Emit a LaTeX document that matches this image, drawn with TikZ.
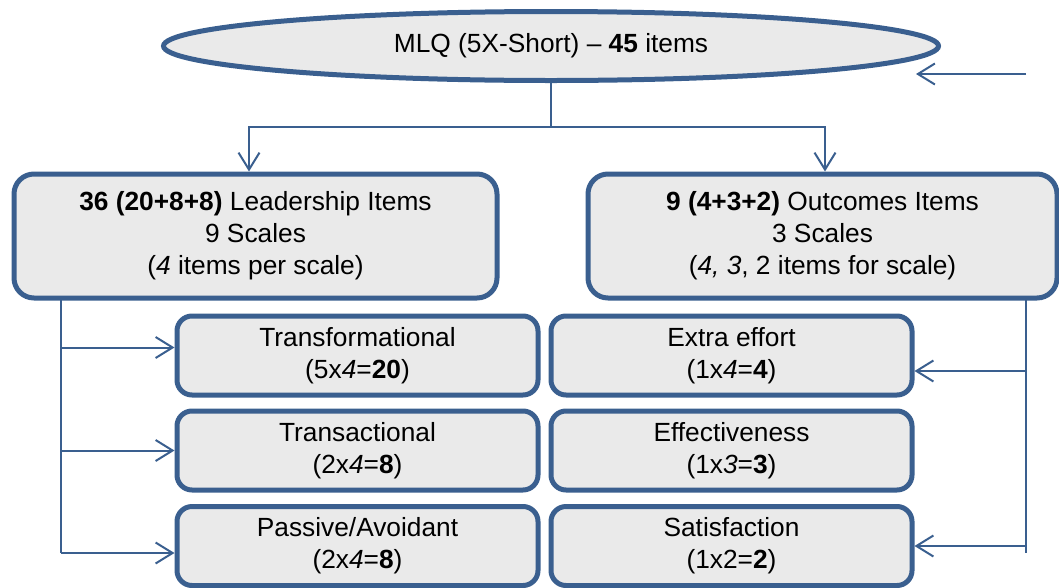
\documentclass[tikz,border=0pt]{standalone}
\usepackage{fontspec}
\setmainfont{Liberation Sans}
\usepackage{tikz}
\usetikzlibrary{arrows.meta,positioning,calc,shapes.geometric}
\usepackage{xcolor}
\definecolor{mqBlue}{HTML}{3A5F8F}
\definecolor{mqGrey}{HTML}{EAEAEA}

\begin{document}
\begin{tikzpicture}[x=1pt, y=-1pt,
  font=\fontsize{26.3}{32}\selectfont,
  top/.style={ellipse, draw=mqBlue, line width=5pt, fill=mqGrey, inner sep=0pt, minimum width=775pt, minimum height=69pt},
  grp/.style={draw=mqBlue, line width=5pt, fill=mqGrey, rounded corners=20pt, inner sep=0pt, minimum height=124pt, align=center},
  scl/.style={draw=mqBlue, line width=5pt, fill=mqGrey, rounded corners=15pt, inner sep=0pt, minimum width=361pt, minimum height=79pt, align=center},
  link/.style={mqBlue, line width=2pt},
  arr/.style={link, -{Straight Barb[length=17pt, width=21pt, line width=2pt]}}]
\useasboundingbox (0,0) rectangle (1059,587);
\node[top] (mlq) at (551,46) {MLQ (5X-Short) -- \textbf{45} items};
\node[grp, minimum width=483pt] (lead) at (255.5,236)
  {\textbf{36 (20+8+8)} Leadership Items\\9 Scales\\(\textit{4} items per scale)};
\node[grp, minimum width=469pt] (outc) at (822.5,236)
  {\textbf{9 (4+3+2)} Outcomes Items\\3 Scales\\(\textit{4, 3}, 2 items for scale)};
\node[scl] (tf) at (357.5,355.5) {Transformational\\(5x\textit{4}=\textbf{20})};
\node[scl] (ta) at (357.5,450.5) {Transactional\\(2x\textit{4}=\textbf{8})};
\node[scl] (pa) at (357.5,546) {Passive/Avoidant\\(2x\textit{4}=\textbf{8})};
\node[scl] (ee) at (731.5,355.5) {Extra effort\\(1x\textit{4}=\textbf{4})};
\node[scl] (ef) at (731.5,450.5) {Effectiveness\\(1x\textit{3}=\textbf{3})};
\node[scl] (sa) at (731.5,546) {Satisfaction\\(1x2=\textbf{2})};

% split below the MLQ ellipse
\coordinate (jn) at (551,127);
\draw[link] (mlq) -- (jn);
\draw[arr] (jn) -| ([xshift=-6.5pt]lead.north);
\draw[arr] (jn) -| ([xshift=2.5pt]outc.north);

% leadership trunk
\coordinate (ltop) at (61,298);
\coordinate (lbot) at (61,553);
\draw[link] (ltop) -- (lbot);
\foreach \b/\dy in {tf/8,ta/0,pa/-7}{\draw[arr] ([yshift=\dy pt]ltop |- \b.west) -- ([yshift=\dy pt]\b.west);}

% outcomes trunk
\coordinate (rtop) at (1026,298);
\coordinate (rbot) at (1026,553);
\draw[link] (rtop) -- (rbot);
\foreach \b/\dy in {ee/-15.5,sa/0}{\draw[arr] ([yshift=\dy pt]rtop |- \b.east) -- ([yshift=\dy pt]\b.east);}

% loose arrow at the top right
\coordinate (fb0) at (1026,74);
\coordinate (fb1) at (916,74);
\draw[arr] (fb0) -- (fb1);
\end{tikzpicture}
\end{document}
